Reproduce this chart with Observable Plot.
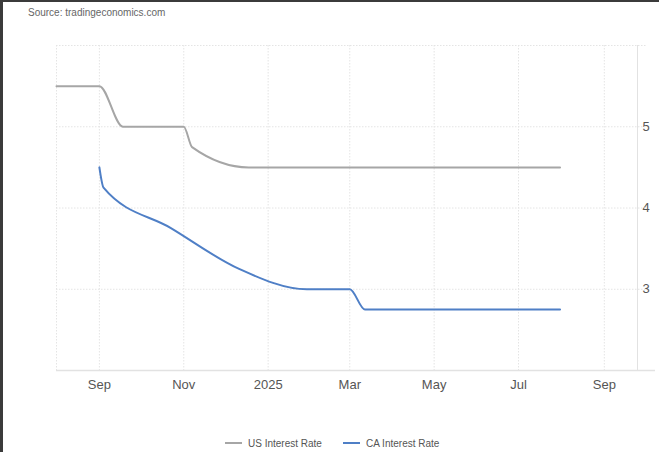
<!DOCTYPE html>
<html>
<head>
<meta charset="utf-8">
<script src="https://cdn.jsdelivr.net/npm/d3@7"></script>
<script src="https://cdn.jsdelivr.net/npm/@observablehq/plot@0.6"></script>
<style>
  html, body { margin: 0; padding: 0; background: #fff; }
  #wrap { position: relative; width: 659px; height: 452px; overflow: hidden; background: #fff; font-family: "Liberation Sans", Arial, sans-serif; }
  #topbar { position: absolute; left: 0; top: 0; width: 659px; height: 2px; background: #3b3b3b; }
  #leftbar { position: absolute; left: 0; top: 0; width: 3px; height: 452px; background: #3b3b3b; }
  #source { position: absolute; left: 28px; top: 7px; font-size: 10px; color: #666; }
  #chart { position: absolute; left: 0; top: 0; }
  #legend { position: absolute; left: 0; top: 437px; width: 659px; font-size: 10px; color: #555; }
  .item { position: absolute; top: 0; white-space: nowrap; line-height: 14px; }
  .sw { display: inline-block; width: 17px; height: 2px; vertical-align: middle; margin-right: 6px; position: relative; top: -1px; }
</style>
</head>
<body>
<div id="wrap">
  <div id="source">Source: tradingeconomics.com</div>
  <div id="chart"></div>
  <div id="legend"></div>
  <div id="topbar"></div>
  <div id="leftbar"></div>
</div>
<script>
// ---- Data ----
const seriesNames = ["US Interest Rate", "CA Interest Rate"];
const seriesColors = ["#a6a6a6", "#4f7fc6"];

const usDates  = ["2024-08-01", "2024-09-01", "2024-09-18", "2024-11-01", "2024-11-07", "2024-12-18", "2025-07-31"];
const usValues = [5.5, 5.5, 5.0, 5.0, 4.75, 4.5, 4.5];

const caDates  = ["2024-09-01", "2024-09-04", "2024-10-23", "2024-12-11", "2025-01-29", "2025-03-01", "2025-03-12", "2025-07-31"];
const caValues = [4.5, 4.25, 3.75, 3.25, 3.0, 3.0, 2.75, 2.75];

const xDomain = ["2024-08-01", "2025-09-25"];
const xTickDates  = ["2024-09-01", "2024-11-01", "2025-01-01", "2025-03-01", "2025-05-01", "2025-07-01", "2025-09-01"];
const xTickLabels = ["Sep", "Nov", "2025", "Mar", "May", "Jul", "Sep"];
const yDomain = [2, 6];
const yTicks = [3, 4, 5];
const yTickLabels = ["3", "4", "5"];
const yGrid = [3, 4, 5, 6];
const gridExtendTo = "2025-10-02";
const axisExtendTo = "2025-10-08";

// ---- Build ----
const parse = s => new Date(s + "T00:00:00Z");
const us = usDates.map((d, i) => ({date: parse(d), value: usValues[i]}));
const ca = caDates.map((d, i) => ({date: parse(d), value: caValues[i]}));
const ticks = xTickDates.map(parse);
const labelMap = new Map(ticks.map((t, i) => [+t, xTickLabels[i]]));
const yLabelMap = new Map(yTicks.map((t, i) => [t, yTickLabels[i]]));
const dom = xDomain.map(parse);

const gridColor = "#e4e4e4";

const chart = Plot.plot({
  width: 659,
  height: 400,
  marginLeft: 56,
  marginRight: 22,
  marginTop: 45,
  marginBottom: 30,
  style: {fontFamily: "'Liberation Sans', Arial, sans-serif", fontSize: "13px", color: "#555", background: "transparent"},
  x: {type: "utc", domain: dom, ticks: ticks, tickFormat: d => labelMap.get(+d), tickSize: 0, tickPadding: 9, label: null},
  y: {domain: yDomain, ticks: yTicks, tickFormat: d => yLabelMap.get(d), axis: "right", tickSize: 0, tickPadding: 5, label: null},
  marks: [
    Plot.ruleX(ticks, {stroke: gridColor, strokeDasharray: "1.5,1.5"}),
    Plot.ruleX([dom[0]], {stroke: gridColor, strokeDasharray: "1.5,1.5"}),
    Plot.ruleY(yGrid, {x1: dom[0], x2: parse(gridExtendTo), stroke: gridColor, strokeDasharray: "1.5,1.5"}),
    Plot.ruleX([dom[1]], {y1: yDomain[0], y2: yDomain[1], stroke: "#e2e2e2"}),
    Plot.ruleY([yDomain[0]], {x1: dom[0], x2: parse(axisExtendTo), stroke: "#e2e2e2", strokeWidth: 1.5}),
    Plot.line(us, {x: "date", y: "value", stroke: seriesColors[0], strokeWidth: 2, curve: "monotone-x"}),
    Plot.line(ca, {x: "date", y: "value", stroke: seriesColors[1], strokeWidth: 2, curve: "monotone-x"})
  ]
});
chart.querySelectorAll("g[aria-label='x-axis tick label'] text, g[aria-label='y-axis tick label'] text").forEach(t => t.setAttribute("fill", "#555"));
document.getElementById("chart").appendChild(chart);

// ---- Legend ----
const legend = document.getElementById("legend");
const legendX = [225, 343];
seriesNames.forEach((name, i) => {
  const it = document.createElement("div");
  it.className = "item";
  it.style.left = legendX[i] + "px";
  it.innerHTML = `<span class="sw" style="background:${seriesColors[i]}"></span>${name}`;
  legend.appendChild(it);
});
</script>
</body>
</html>
